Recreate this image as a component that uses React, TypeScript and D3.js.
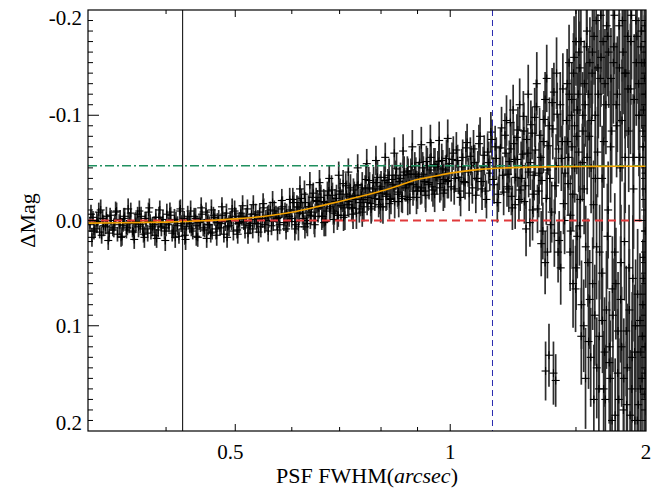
import React from "react";
import * as d3 from "d3";

const W = 665;
const H = 489;
const PLOT = { left: 88, right: 646, top: 10, bottom: 431 };

// axis domains
const xDomain: [number, number] = [0.311, 1.88];
const yDomain: [number, number] = [-0.2, 0.2];

// tick values / labels
const xMajorTicks = [0.5, 1, 2];
const xMajorLabels = ["0.5", "1", "2"];
const xMinorTicks = [0.4, 0.6, 0.7, 0.8, 0.9, 1.5];
const yLabelTicks = [-0.2, -0.1, 0.0, 0.1, 0.2];
const yLabels = ["-0.2", "-0.1", "0.0", "0.1", "0.2"];
const yMajorTicks = [-0.1, 0.0, 0.1];
const yMinorStep = 0.01;

// reference lines
const seeingCut = 0.422; // black vertical
const fwhmLimit = 1.146; // blue dashed vertical
const zeroLevel = 0.0; // red dashed
const plateauLevel = -0.052; // green dash-dot

// fitted curve (orange)
const fitFwhm = [0.311, 0.35, 0.4, 0.45, 0.5, 0.55, 0.6, 0.65, 0.7, 0.75, 0.8, 0.85, 0.9, 0.95, 1.0, 1.1, 1.2, 1.3, 1.45, 1.6, 1.88];
const fitDMag = [0.0025, 0.0022, 0.0015, 0.0003, -0.0015, -0.004, -0.0078, -0.013, -0.018, -0.023, -0.028, -0.0335, -0.039, -0.042, -0.045, -0.0486, -0.05, -0.0507, -0.0512, -0.0514, -0.0516];

// measurements: [FWHM, ΔMag, error]
const dataGood: [number, number, number][] = [
  [0.313,0.004,0.007],[0.316,-0.003,0.006],[0.318,0.008,0.008],[0.321,0.001,0.007],[0.323,0.011,0.006],[0.326,-0.002,0.008],[0.329,0.006,0.007],[0.331,0.003,0.009],[0.334,-0.005,0.007],[0.337,0.009,0.006],
  [0.339,0.002,0.008],[0.342,0.013,0.007],[0.345,-0.001,0.009],[0.348,0.005,0.006],[0.350,-0.004,0.008],[0.353,0.007,0.007],[0.356,0.000,0.008],[0.359,0.010,0.006],[0.362,0.003,0.009],[0.365,-0.006,0.007],
  [0.368,0.004,0.008],[0.371,0.008,0.007],[0.374,-0.002,0.006],[0.377,0.012,0.008],[0.380,0.001,0.007],[0.383,0.006,0.009],[0.387,-0.003,0.008],[0.390,0.009,0.007],[0.393,0.002,0.006],[0.396,-0.001,0.009],
  [0.400,0.007,0.008],[0.403,0.004,0.007],[0.406,-0.005,0.008],[0.410,0.010,0.007],[0.413,0.001,0.009],[0.417,0.015,0.007],[0.420,0.003,0.008],[0.424,-0.002,0.007],[0.427,0.006,0.009],[0.431,0.000,0.008],
  [0.434,0.008,0.007],[0.438,-0.004,0.008],[0.442,0.005,0.009],[0.445,0.002,0.007],[0.449,-0.006,0.008],[0.453,0.009,0.007],[0.457,-0.001,0.009],[0.460,0.004,0.008],[0.464,0.011,0.007],[0.468,-0.003,0.008],
  [0.472,0.002,0.009],[0.476,0.007,0.007],[0.480,-0.005,0.008],[0.484,0.001,0.009],[0.488,0.006,0.008],[0.492,-0.002,0.007],[0.497,0.010,0.009],[0.501,-0.004,0.008],[0.505,0.003,0.009],[0.509,-0.007,0.007],
  [0.514,0.001,0.008],[0.518,-0.003,0.009],[0.523,0.005,0.008],[0.527,-0.006,0.009],[0.532,-0.001,0.008],[0.536,0.003,0.009],[0.541,-0.008,0.008],[0.546,-0.002,0.009],[0.550,0.004,0.008],[0.555,-0.005,0.009],
  [0.560,-0.010,0.008],[0.565,0.001,0.009],[0.570,-0.006,0.008],[0.575,-0.003,0.010],[0.580,-0.011,0.009],[0.585,0.002,0.008],[0.590,-0.007,0.009],[0.595,-0.004,0.010],
];

const dataGood2: [number, number, number][] = [
  [0.314,-0.006,0.009],[0.317,0.010,0.008],[0.320,0.002,0.010],[0.322,-0.008,0.009],[0.325,0.014,0.008],[0.327,0.005,0.010],[0.330,-0.004,0.009],[0.333,0.012,0.008],[0.335,0.000,0.010],[0.338,0.007,0.009],
  [0.341,-0.009,0.008],[0.344,0.004,0.010],[0.346,0.016,0.009],[0.349,-0.002,0.010],[0.352,0.009,0.008],[0.355,0.003,0.009],[0.357,-0.007,0.010],[0.360,0.011,0.008],[0.363,0.001,0.009],[0.366,0.006,0.010],
  [0.369,-0.004,0.009],[0.372,0.013,0.008],[0.375,0.002,0.010],[0.378,-0.008,0.009],[0.381,0.008,0.010],[0.385,0.004,0.008],[0.388,0.017,0.009],[0.391,-0.003,0.010],[0.394,0.006,0.009],[0.398,0.010,0.008],
  [0.401,-0.006,0.010],[0.404,0.002,0.009],[0.408,0.012,0.008],[0.411,-0.001,0.010],[0.415,0.005,0.009],[0.418,-0.009,0.010],[0.422,0.008,0.008],[0.425,0.014,0.009],[0.429,-0.004,0.010],[0.432,0.003,0.009],
  [0.436,0.010,0.008],[0.440,-0.002,0.010],[0.443,0.016,0.009],[0.447,0.001,0.010],[0.451,0.007,0.008],[0.455,-0.008,0.009],[0.458,0.004,0.010],[0.462,0.012,0.009],[0.466,-0.005,0.008],[0.470,0.008,0.010],
  [0.474,-0.001,0.009],[0.478,0.003,0.010],[0.482,0.013,0.008],[0.486,-0.007,0.009],[0.490,0.005,0.010],[0.494,0.000,0.009],[0.499,-0.009,0.010],[0.503,0.009,0.008],[0.507,0.002,0.010],[0.511,-0.004,0.009],
  [0.516,0.007,0.010],[0.520,-0.011,0.009],[0.525,0.003,0.010],[0.529,0.008,0.009],[0.534,-0.006,0.010],[0.538,-0.001,0.009],[0.543,0.006,0.010],[0.548,-0.012,0.009],[0.552,0.000,0.010],[0.557,-0.004,0.011],
  [0.562,0.005,0.009],[0.567,-0.009,0.010],[0.572,-0.002,0.011],[0.577,0.004,0.009],[0.582,-0.013,0.010],[0.587,-0.006,0.011],[0.592,0.001,0.010],[0.597,-0.010,0.011],
];

const dataGood3: [number, number, number][] = [
  [0.315,0.016,0.009],[0.324,-0.010,0.010],[0.332,0.019,0.009],[0.340,-0.008,0.010],[0.347,0.015,0.009],[0.354,-0.011,0.010],[0.361,0.018,0.009],[0.367,-0.009,0.010],[0.373,0.016,0.010],[0.379,-0.012,0.009],
  [0.386,0.014,0.010],[0.392,-0.010,0.009],[0.399,0.019,0.010],[0.405,-0.008,0.009],[0.412,0.016,0.010],[0.419,-0.011,0.009],[0.426,0.018,0.010],[0.433,-0.009,0.010],[0.441,0.015,0.009],[0.448,-0.012,0.010],
  [0.456,0.017,0.009],[0.463,-0.010,0.010],[0.471,0.014,0.010],[0.479,-0.013,0.009],[0.487,0.016,0.010],[0.495,-0.011,0.010],[0.504,0.013,0.009],[0.512,-0.014,0.010],[0.521,0.012,0.010],[0.530,-0.015,0.009],
  [0.539,0.011,0.010],[0.547,-0.016,0.010],[0.556,0.010,0.010],[0.564,-0.017,0.011],[0.573,0.009,0.010],[0.581,-0.019,0.011],[0.589,0.008,0.010],[0.596,-0.020,0.011],
];

const dataRise: [number, number, number][] = [
  [0.600,-0.002,0.009],[0.604,-0.017,0.010],[0.608,0.004,0.009],[0.612,-0.012,0.011],[0.615,-0.007,0.010],[0.619,-0.021,0.009],[0.623,-0.002,0.011],[0.627,-0.017,0.010],[0.631,0.003,0.012],[0.635,-0.013,0.010],
  [0.639,-0.008,0.011],[0.643,-0.026,0.010],[0.647,-0.004,0.012],[0.651,-0.018,0.011],[0.655,-0.012,0.010],[0.659,-0.022,0.012],[0.663,-0.004,0.011],[0.667,-0.017,0.012],[0.671,-0.009,0.010],[0.676,-0.028,0.012],
  [0.680,-0.013,0.011],[0.684,-0.024,0.012],[0.688,-0.007,0.011],[0.693,-0.021,0.013],[0.697,-0.005,0.011],[0.701,-0.028,0.012],[0.706,-0.019,0.011],[0.710,-0.012,0.013],[0.714,-0.033,0.012],[0.719,-0.015,0.011],
  [0.723,-0.023,0.013],[0.728,-0.012,0.012],[0.732,-0.029,0.011],[0.737,-0.020,0.013],[0.741,-0.033,0.012],[0.746,-0.011,0.013],[0.751,-0.024,0.012],[0.755,-0.020,0.011],[0.760,-0.030,0.013],[0.765,-0.017,0.012],
  [0.769,-0.038,0.013],[0.774,-0.016,0.012],[0.779,-0.030,0.014],[0.784,-0.021,0.012],[0.789,-0.036,0.013],[0.794,-0.015,0.012],[0.798,-0.030,0.014],[0.803,-0.026,0.013],[0.808,-0.041,0.012],[0.813,-0.023,0.014],
  [0.818,-0.036,0.013],[0.824,-0.020,0.012],[0.829,-0.039,0.014],[0.834,-0.031,0.013],[0.839,-0.043,0.014],[0.844,-0.025,0.012],[0.849,-0.037,0.014],[0.855,-0.021,0.013],[0.860,-0.043,0.015],[0.865,-0.031,0.013],
  [0.871,-0.047,0.014],[0.876,-0.035,0.013],[0.881,-0.044,0.015],[0.887,-0.028,0.014],[0.892,-0.052,0.013],[0.898,-0.032,0.015],[0.903,-0.042,0.014],[0.909,-0.028,0.013],[0.915,-0.050,0.015],[0.920,-0.037,0.014],
  [0.926,-0.056,0.015],[0.932,-0.034,0.013],[0.937,-0.048,0.015],[0.943,-0.032,0.014],[0.949,-0.053,0.016],[0.955,-0.041,0.014],[0.961,-0.051,0.015],[0.967,-0.031,0.014],[0.973,-0.057,0.016],[0.979,-0.039,0.015],
  [0.985,-0.048,0.014],[0.991,-0.037,0.016],[0.997,-0.054,0.015],
];

const dataRise2: [number, number, number][] = [
  [0.602,-0.020,0.011],[0.606,0.001,0.012],[0.610,-0.013,0.011],[0.613,0.006,0.013],[0.617,-0.017,0.012],[0.621,-0.007,0.011],[0.625,-0.025,0.013],[0.629,0.000,0.012],[0.633,-0.013,0.011],[0.637,-0.005,0.013],
  [0.641,-0.022,0.012],[0.645,0.000,0.013],[0.649,-0.019,0.012],[0.653,-0.012,0.014],[0.657,-0.028,0.012],[0.661,-0.004,0.013],[0.665,-0.018,0.012],[0.669,0.001,0.014],[0.673,-0.024,0.013],[0.678,-0.011,0.012],
  [0.682,-0.029,0.014],[0.686,-0.009,0.013],[0.690,-0.018,0.012],[0.695,-0.005,0.014],[0.699,-0.025,0.013],[0.703,-0.014,0.014],[0.708,-0.035,0.013],[0.712,-0.005,0.014],[0.716,-0.025,0.013],[0.721,-0.018,0.015],
  [0.725,-0.031,0.013],[0.730,-0.012,0.014],[0.734,-0.024,0.013],[0.739,-0.007,0.015],[0.743,-0.034,0.014],[0.748,-0.017,0.013],[0.753,-0.031,0.015],[0.757,-0.013,0.014],[0.762,-0.039,0.015],[0.767,-0.022,0.013],
  [0.771,-0.031,0.015],[0.776,-0.013,0.014],[0.781,-0.036,0.015],[0.786,-0.026,0.014],[0.791,-0.041,0.016],[0.796,-0.020,0.014],[0.800,-0.032,0.015],[0.805,-0.013,0.016],[0.810,-0.038,0.014],[0.815,-0.025,0.015],
  [0.821,-0.043,0.016],[0.826,-0.021,0.015],[0.831,-0.034,0.014],[0.836,-0.018,0.016],[0.841,-0.049,0.015],[0.846,-0.027,0.016],[0.852,-0.040,0.015],[0.857,-0.023,0.016],[0.862,-0.046,0.015],[0.868,-0.034,0.016],
  [0.873,-0.044,0.015],[0.878,-0.022,0.016],[0.884,-0.051,0.017],[0.889,-0.034,0.015],[0.895,-0.044,0.016],[0.900,-0.028,0.017],[0.906,-0.055,0.016],[0.912,-0.031,0.015],[0.917,-0.044,0.017],[0.923,-0.028,0.016],
  [0.929,-0.052,0.017],[0.934,-0.036,0.016],[0.940,-0.060,0.017],[0.946,-0.029,0.016],[0.952,-0.051,0.018],[0.958,-0.041,0.016],[0.964,-0.056,0.017],[0.970,-0.035,0.016],[0.976,-0.049,0.018],[0.982,-0.029,0.017],
  [0.988,-0.059,0.018],[0.994,-0.038,0.017],
];

const dataRise3: [number, number, number][] = [
  [0.606,0.008,0.011],[0.616,-0.030,0.012],[0.626,0.006,0.011],[0.636,-0.034,0.012],[0.646,0.004,0.012],[0.656,-0.036,0.012],[0.666,0.002,0.013],[0.677,-0.040,0.012],[0.687,-0.001,0.013],[0.698,-0.043,0.013],
  [0.709,-0.003,0.013],[0.720,-0.046,0.013],[0.731,-0.006,0.014],[0.742,-0.050,0.013],[0.753,-0.008,0.014],[0.764,-0.054,0.014],[0.775,-0.011,0.014],[0.787,-0.057,0.014],[0.799,-0.013,0.015],[0.811,-0.060,0.014],
  [0.822,-0.016,0.015],[0.835,-0.064,0.015],[0.847,-0.018,0.015],[0.859,-0.066,0.016],[0.872,-0.020,0.015],[0.885,-0.070,0.016],[0.897,-0.022,0.016],[0.911,-0.072,0.017],[0.924,-0.024,0.016],[0.938,-0.074,0.017],
  [0.951,-0.025,0.017],[0.965,-0.076,0.018],[0.978,-0.026,0.017],[0.992,-0.078,0.018],
];

const dataPlateau: [number, number, number][] = [
  [1.003,-0.032,0.014],[1.010,-0.064,0.016],[1.017,-0.040,0.013],[1.024,-0.057,0.015],[1.031,-0.028,0.014],[1.038,-0.051,0.017],[1.045,-0.037,0.015],[1.052,-0.069,0.016],[1.060,-0.046,0.014],[1.067,-0.061,0.018],
  [1.074,-0.031,0.015],[1.082,-0.055,0.017],[1.089,-0.040,0.016],[1.097,-0.073,0.018],[1.105,-0.037,0.015],[1.112,-0.051,0.019],[1.120,-0.028,0.016],[1.128,-0.065,0.018],[1.136,-0.045,0.017],[1.144,-0.077,0.019],
  [1.152,-0.034,0.018],[1.160,-0.059,0.020],[1.168,-0.025,0.017],[1.176,-0.069,0.019],[1.184,-0.043,0.018],[1.193,-0.081,0.021],[1.201,-0.032,0.019],[1.210,-0.056,0.020],[1.218,-0.023,0.018],[1.227,-0.073,0.021],
  [1.235,-0.041,0.019],[1.244,-0.086,0.022],[1.253,-0.029,0.020],[1.262,-0.063,0.023],[1.270,-0.018,0.021],[1.279,-0.077,0.022],[1.288,-0.046,0.024],[1.297,-0.091,0.023],[1.307,-0.025,0.022],[1.316,-0.067,0.025],
  [1.325,-0.011,0.023],[1.334,-0.081,0.026],[1.344,-0.038,0.024],[1.353,-0.096,0.027],[1.358,0.040,0.030],[1.360,0.143,0.028],[1.363,-0.021,0.025],[1.368,0.030,0.025],[1.372,-0.071,0.028],[1.375,0.128,0.030],
  [1.382,0.004,0.026],[1.392,-0.087,0.029],[1.395,0.145,0.030],[1.402,-0.033,0.027],[1.405,0.152,0.025],[1.412,-0.101,0.030],[1.421,0.019,0.028],[1.431,-0.059,0.031],[1.441,-0.016,0.029],
];

const dataPlateau2: [number, number, number][] = [
  [1.006,-0.058,0.016],[1.013,-0.030,0.015],[1.020,-0.067,0.017],[1.027,-0.041,0.016],[1.034,-0.022,0.018],[1.041,-0.060,0.017],[1.049,-0.036,0.016],[1.056,-0.074,0.018],[1.063,-0.026,0.017],[1.071,-0.052,0.019],
  [1.078,-0.068,0.018],[1.086,-0.024,0.017],[1.093,-0.047,0.019],[1.101,-0.080,0.018],[1.108,-0.030,0.020],[1.116,-0.062,0.019],[1.124,-0.020,0.018],[1.132,-0.055,0.020],[1.140,-0.084,0.019],[1.148,-0.039,0.021],
  [1.156,-0.070,0.020],[1.164,-0.017,0.019],[1.172,-0.050,0.021],[1.180,-0.088,0.020],[1.188,-0.027,0.022],[1.197,-0.064,0.021],[1.205,-0.044,0.020],[1.214,-0.093,0.022],[1.222,-0.012,0.021],[1.231,-0.058,0.023],
  [1.240,-0.079,0.022],[1.248,-0.020,0.021],[1.257,-0.052,0.023],[1.266,-0.099,0.024],[1.275,-0.033,0.022],[1.284,-0.064,0.024],[1.293,0.002,0.023],[1.302,-0.083,0.025],[1.311,-0.043,0.024],[1.320,-0.108,0.026],
  [1.330,-0.028,0.025],[1.339,-0.060,0.026],[1.348,0.010,0.027],[1.358,-0.115,0.026],[1.367,-0.048,0.028],[1.377,-0.090,0.027],[1.387,-0.008,0.029],[1.397,-0.122,0.028],[1.407,-0.052,0.030],[1.416,0.030,0.029],
  [1.426,-0.110,0.031],[1.436,-0.075,0.030],[1.446,0.000,0.032],
];

const dataPlateau3: [number, number, number][] = [
  [1.199,-0.095,0.024],[1.208,-0.030,0.022],[1.216,-0.068,0.025],[1.225,-0.105,0.024],[1.233,-0.015,0.023],[1.242,-0.058,0.026],[1.251,-0.110,0.025],[1.259,-0.040,0.024],[1.268,-0.085,0.027],[1.277,0.008,0.026],
  [1.286,-0.120,0.028],[1.295,-0.055,0.026],[1.304,-0.010,0.029],[1.313,-0.098,0.028],[1.322,-0.130,0.030],[1.332,-0.045,0.029],[1.341,0.022,0.031],[1.350,-0.075,0.030],[1.365,-0.135,0.032],[1.379,-0.040,0.031],
  [1.389,-0.112,0.033],[1.399,0.012,0.032],[1.409,-0.140,0.034],[1.418,-0.068,0.033],[1.428,0.045,0.035],[1.438,-0.125,0.034],[1.448,-0.045,0.035],
];

const dataWide: [number, number, number][] = [
  [1.455,-0.095,0.032],[1.462,-0.035,0.030],[1.468,-0.120,0.034],[1.475,0.010,0.036],[1.481,-0.070,0.031],[1.488,-0.140,0.038],[1.494,-0.050,0.033],[1.501,0.045,0.040],[1.507,-0.105,0.035],[1.514,-0.160,0.040],
  [1.521,-0.020,0.037],[1.527,0.080,0.042],[1.534,-0.085,0.036],[1.541,-0.130,0.041],[1.548,0.025,0.039],[1.555,-0.060,0.035],[1.562,0.115,0.045],[1.569,-0.150,0.043],[1.576,-0.095,0.038],[1.583,0.060,0.044],
  [1.590,-0.175,0.046],[1.597,-0.040,0.040],[1.604,0.140,0.048],[1.612,-0.120,0.042],[1.619,0.030,0.045],[1.626,-0.155,0.047],[1.634,0.095,0.050],[1.641,-0.075,0.044],[1.649,0.170,0.052],[1.656,-0.185,0.050],
  [1.664,-0.010,0.046],[1.671,0.120,0.053],[1.679,-0.135,0.048],[1.687,0.065,0.050],[1.694,-0.165,0.055],[1.702,0.185,0.054],[1.710,-0.090,0.049],[1.718,0.105,0.056],[1.726,-0.145,0.052],[1.734,0.040,0.055],
  [1.742,-0.190,0.058],[1.750,0.150,0.057],[1.758,-0.060,0.053],[1.766,0.175,0.060],[1.774,-0.125,0.056],[1.782,0.085,0.058],[1.790,-0.170,0.060],[1.798,0.130,0.062],[1.806,-0.030,0.057],[1.814,0.190,0.063],
  [1.822,-0.150,0.060],[1.830,0.070,0.062],[1.838,-0.100,0.058],[1.846,0.160,0.065],[1.852,-0.180,0.062],[1.858,0.110,0.060],[1.863,-0.070,0.058],[1.867,0.035,0.055],[1.871,-0.135,0.060],[1.874,0.145,0.062],
  [1.877,-0.045,0.057],
];

const dataWide2: [number, number, number][] = [
  [1.458,-0.130,0.033],[1.465,-0.060,0.031],[1.472,0.030,0.037],[1.478,-0.100,0.034],[1.485,-0.025,0.035],[1.491,-0.155,0.039],[1.498,0.065,0.041],[1.504,-0.080,0.036],[1.511,-0.120,0.040],[1.517,0.005,0.038],
  [1.524,-0.170,0.043],[1.531,-0.055,0.037],[1.538,0.100,0.044],[1.545,-0.110,0.040],[1.552,-0.165,0.044],[1.559,0.040,0.042],[1.566,-0.080,0.039],[1.573,0.130,0.047],[1.580,-0.140,0.044],[1.587,-0.015,0.042],
  [1.594,0.090,0.048],[1.601,-0.190,0.048],[1.608,-0.065,0.043],[1.615,0.160,0.050],[1.622,-0.135,0.046],[1.630,0.050,0.049],[1.637,-0.170,0.050],[1.645,0.125,0.052],[1.652,-0.110,0.047],[1.660,0.015,0.050],
  [1.667,-0.160,0.053],[1.675,0.150,0.055],[1.683,-0.085,0.050],[1.690,0.090,0.054],[1.698,-0.195,0.056],[1.706,0.060,0.053],[1.714,-0.120,0.055],[1.722,0.170,0.058],[1.730,-0.050,0.054],[1.738,0.120,0.057],
  [1.746,-0.160,0.059],[1.754,0.020,0.056],[1.762,-0.140,0.060],[1.770,0.140,0.061],[1.778,-0.085,0.058],[1.786,0.185,0.062],[1.794,-0.195,0.061],[1.802,0.055,0.060],[1.810,-0.115,0.062],[1.818,0.100,0.063],
  [1.826,-0.175,0.064],[1.834,0.175,0.065],[1.842,-0.060,0.061],[1.849,0.125,0.064],[1.855,-0.150,0.063],[1.861,0.080,0.062],[1.865,-0.105,0.061],[1.869,0.165,0.063],[1.873,-0.185,0.064],[1.876,0.010,0.060],
  [1.878,-0.120,0.062],
];

const dataWide3: [number, number, number][] = [
  [1.460,-0.075,0.034],[1.467,-0.150,0.036],[1.474,-0.005,0.038],[1.480,-0.115,0.035],[1.486,0.060,0.042],[1.493,-0.090,0.037],[1.500,-0.170,0.042],[1.506,0.015,0.040],[1.513,-0.065,0.038],[1.519,-0.145,0.044],
  [1.526,0.110,0.046],[1.533,-0.100,0.041],[1.540,-0.030,0.043],[1.547,0.150,0.048],[1.554,-0.180,0.046],[1.561,-0.120,0.044],[1.568,0.075,0.047],[1.575,-0.050,0.043],[1.582,-0.160,0.049],[1.589,0.170,0.052],
  [1.596,-0.100,0.047],[1.603,0.025,0.050],[1.610,-0.145,0.051],[1.617,0.110,0.053],[1.625,-0.195,0.054],[1.632,-0.040,0.050],[1.640,0.160,0.055],[1.647,-0.130,0.052],[1.655,0.085,0.056],[1.662,-0.175,0.057],
  [1.670,0.135,0.058],[1.677,-0.070,0.053],[1.685,0.190,0.060],[1.692,-0.150,0.058],[1.700,0.030,0.056],[1.708,-0.110,0.059],[1.716,0.145,0.061],[1.724,-0.185,0.060],[1.732,0.075,0.060],[1.740,-0.095,0.058],
  [1.748,0.180,0.063],[1.756,-0.140,0.062],[1.764,0.105,0.062],[1.772,-0.175,0.063],[1.780,0.045,0.060],[1.788,-0.125,0.062],[1.796,0.160,0.065],[1.804,-0.060,0.060],[1.812,0.125,0.064],[1.820,-0.190,0.065],
  [1.828,0.190,0.066],[1.836,-0.130,0.063],[1.844,0.095,0.064],[1.850,-0.165,0.066],[1.856,0.150,0.066],[1.862,-0.085,0.062],[1.866,0.055,0.060],[1.870,-0.150,0.064],[1.875,0.120,0.065],[1.879,-0.030,0.060],
];

const FONT = "'Liberation Serif', 'DejaVu Serif', serif";

export default function App() {
  const x = d3.scaleLog().domain(xDomain).range([PLOT.left, PLOT.right]);
  const y = d3.scaleLinear().domain(yDomain).range([PLOT.top, PLOT.bottom]);
  const xc = x.copy().clamp(true);

  const points = [
    ...dataGood, ...dataGood2, ...dataGood3,
    ...dataRise, ...dataRise2, ...dataRise3,
    ...dataPlateau, ...dataPlateau2, ...dataPlateau3,
    ...dataWide, ...dataWide2, ...dataWide3,
  ];

  const yMinor = d3
    .range(Math.round(yDomain[0] / yMinorStep) + 1, Math.round(yDomain[1] / yMinorStep))
    .map((i) => i * yMinorStep)
    .filter((v) => !yMajorTicks.some((m) => Math.abs(m - v) < 1e-9));

  const fitLine = d3
    .line<number>()
    .x((_, i) => x(fitFwhm[i]))
    .y((d) => y(d))
    .curve(d3.curveMonotoneX);

  const xMajLen = 7;
  const xMinLen = 4;
  const yMajLen = 11;
  const yMinLen = 5;

  const clampLabelY = (v: number) => Math.max(PLOT.top + 8, Math.min(PLOT.bottom - 8, y(v)));

  return (
    <div style={{ position: "fixed", left: 0, top: 0, width: W, height: H, background: "#fff" }}>
      <svg width={W} height={H} viewBox={`0 0 ${W} ${H}`} style={{ display: "block" }}>
        <defs>
          <clipPath id="plotClip">
            <rect x={PLOT.left} y={PLOT.top} width={PLOT.right - PLOT.left} height={PLOT.bottom - PLOT.top} />
          </clipPath>
        </defs>
        <rect x={0} y={0} width={W} height={H} fill="#fff" />

        <g clipPath="url(#plotClip)">
          {/* error bars */}
          <g stroke="#2e2e2e" strokeWidth={1.7}>
            {points.map((p, i) => (
              <line key={"e" + i} x1={x(p[0])} x2={x(p[0])} y1={y(p[1] - p[2])} y2={y(p[1] + p[2])} />
            ))}
          </g>
          {/* plus markers */}
          <g stroke="#000" strokeWidth={1.1}>
            {points.map((p, i) => {
              const cx = x(p[0]);
              const cy = y(p[1]);
              return (
                <g key={"m" + i}>
                  <line x1={cx - 4} x2={cx + 4} y1={cy} y2={cy} />
                  <line x1={cx} x2={cx} y1={cy - 4} y2={cy + 4} />
                </g>
              );
            })}
          </g>

          {/* reference lines */}
          <line x1={PLOT.left} x2={PLOT.right} y1={y(zeroLevel)} y2={y(zeroLevel)} stroke="#e0393b" strokeWidth={2} strokeDasharray="8,5" />
          <line x1={PLOT.left} x2={PLOT.right} y1={y(plateauLevel)} y2={y(plateauLevel)} stroke="#1f8f5f" strokeWidth={1.3} strokeDasharray="9,3,2,3" />
          <path d={fitLine(fitDMag) || ""} fill="none" stroke="#f5a300" strokeWidth={1.6} />
          <line x1={x(seeingCut)} x2={x(seeingCut)} y1={PLOT.top} y2={PLOT.bottom} stroke="#000" strokeWidth={1} />
          <line x1={x(fwhmLimit)} x2={x(fwhmLimit)} y1={PLOT.top} y2={PLOT.bottom} stroke="#2a2ab0" strokeWidth={1} strokeDasharray="6,4" />
        </g>

        {/* frame */}
        <rect x={PLOT.left} y={PLOT.top} width={PLOT.right - PLOT.left} height={PLOT.bottom - PLOT.top} fill="none" stroke="#000" strokeWidth={1.2} />

        {/* ticks */}
        <g stroke="#000" strokeWidth={1}>
          {xMajorTicks.filter((v) => v >= xDomain[0] && v <= xDomain[1]).map((v, i) => (
            <g key={"xM" + i}>
              <line x1={x(v)} x2={x(v)} y1={PLOT.bottom} y2={PLOT.bottom - xMajLen} />
              <line x1={x(v)} x2={x(v)} y1={PLOT.top} y2={PLOT.top + xMajLen} />
            </g>
          ))}
          {xMinorTicks.map((v, i) => (
            <g key={"xm" + i}>
              <line x1={x(v)} x2={x(v)} y1={PLOT.bottom} y2={PLOT.bottom - xMinLen} />
              <line x1={x(v)} x2={x(v)} y1={PLOT.top} y2={PLOT.top + xMinLen} />
            </g>
          ))}
          {yMajorTicks.map((v, i) => (
            <g key={"yM" + i}>
              <line x1={PLOT.left} x2={PLOT.left + yMajLen} y1={y(v)} y2={y(v)} />
              <line x1={PLOT.right} x2={PLOT.right - yMajLen} y1={y(v)} y2={y(v)} />
            </g>
          ))}
          {yMinor.map((v, i) => (
            <g key={"ym" + i}>
              <line x1={PLOT.left} x2={PLOT.left + yMinLen} y1={y(v)} y2={y(v)} />
              <line x1={PLOT.right} x2={PLOT.right - yMinLen} y1={y(v)} y2={y(v)} />
            </g>
          ))}
        </g>

        {/* tick labels */}
        <g fontFamily={FONT} fontSize={21} fill="#000">
          {xMajorTicks.map((v, i) => (
            <text key={"xl" + i} x={xc(v) - (i === 0 ? 5 : 0)} y={459} textAnchor="middle">
              {xMajorLabels[i]}
            </text>
          ))}
          {yLabelTicks.map((v, i) => (
            <text key={"yl" + i} x={82} y={clampLabelY(v) + 7} textAnchor="end">
              {yLabels[i]}
            </text>
          ))}
        </g>

        {/* axis titles */}
        <text x={(PLOT.left + PLOT.right) / 2} y={483} textAnchor="middle" fontFamily={FONT} fontSize={22} fill="#000">
          PSF FWHM(<tspan fontStyle="italic">arcsec</tspan>)
        </text>
        <text transform={`translate(35, ${(PLOT.top + PLOT.bottom) / 2}) rotate(-90)`} textAnchor="middle" fontFamily={FONT} fontSize={22} fill="#000">
          ΔMag
        </text>
      </svg>
    </div>
  );
}
